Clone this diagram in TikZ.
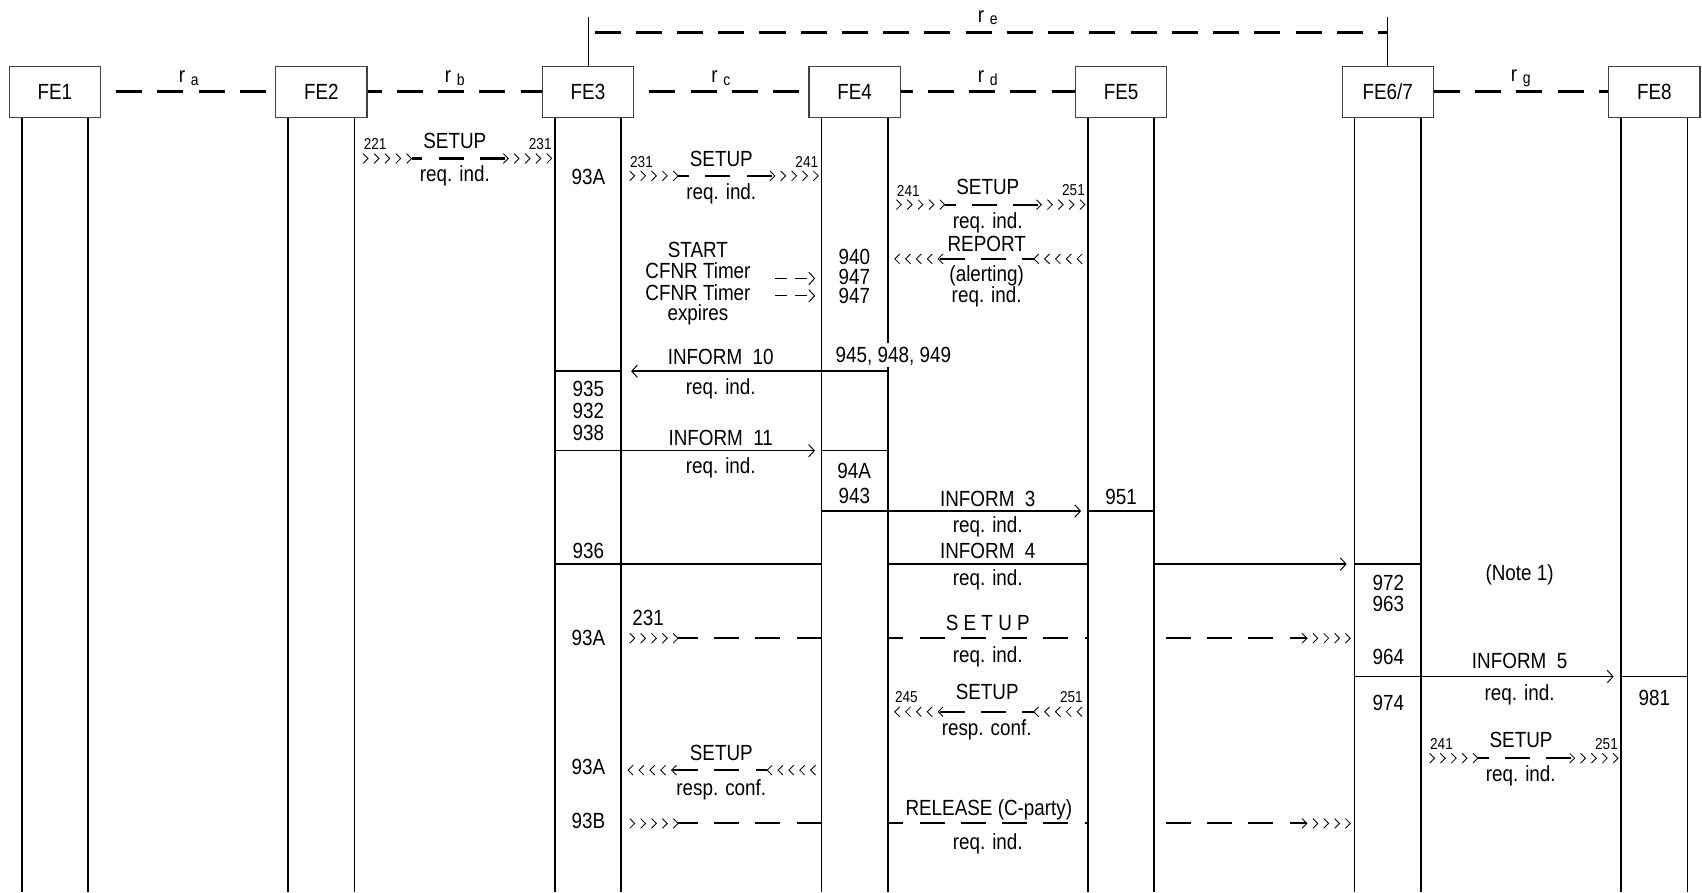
\documentclass[tikz,border=0pt]{standalone}
\usepackage{fontspec}
\setmainfont{Liberation Sans}[FakeStretch=0.86]
\usetikzlibrary{arrows.meta}
\begin{document}
\begin{tikzpicture}[x=0.02cm,y=-0.02cm,
  lbl/.style={font=\fontsize{11.5}{12}\selectfont, inner sep=0pt, anchor=center},
  sml/.style={font=\fontsize{8.3}{9}\selectfont, inner sep=0pt, anchor=center},
  febox/.style={draw=black!75, line width=0.6pt, fill=white, minimum width=1.68cm, minimum height=0.94cm, inner sep=0pt, font=\fontsize{11.5}{12}\selectfont},
  life/.style={line width=1pt},
  lifethin/.style={line width=0.5pt},
  link/.style={line width=1.6pt, dash pattern=on 0.48cm off 0.28cm},
  dmsg/.style={line width=1.1pt, dash pattern=on 0.46cm off 0.3cm},
  imsg/.style={line width=0.8pt},
  tip/.style={-{Straight Barb[length=3pt,width=6.5pt,line width=0.5pt]}},
  chev/.style={line width=0.45pt},
  chr/.pic={\foreach \i in {0,10,20,30,40}{\draw[chev] (\i-4.5,-4.5) -- (\i,0) -- (\i-4.5,4.5);}},
  chl/.pic={\foreach \i in {0,10,20,30,40}{\draw[chev] (\i+4.5,-4.5) -- (\i,0) -- (\i+4.5,4.5);}},
]
\useasboundingbox (0,0) rectangle (1568,822);

% ---------- lifelines ----------
\foreach \n/\c in {1/50.5,2/296.1,3/541.7,4/787.3,5/1032.9,6/1278.5,8/1524.1}{
  \coordinate (L\n t) at (\c-30.5,108);
  \coordinate (L\n b) at (\c-30.5,822);
  \coordinate (R\n t) at (\c+30.5,108);
  \coordinate (R\n b) at (\c+30.5,822);
}
\foreach \n in {1,2,3,5,8}{
  \draw[life] (L\n t) -- (L\n b);
  \draw[life] (R\n t) -- (R\n b);
}
\draw[life] (L4t) -- (L4b);
\coordinate (R4g1) at (817.8,316);
\coordinate (R4g2) at (817.8,338);
\draw[life] (R4t) -- (R4g1);
\draw[life] (R4g2) -- (R4b);
\draw[lifethin] (L6t) -- (L6b);
\draw[life] (R6t) -- (R6b);

% ---------- FE boxes ----------
\node[febox] (fe1) at (50.5,84.5) {FE1};
\node[febox] (fe2) at (296.1,84.5) {FE2};
\node[febox] (fe3) at (541.7,84.5) {FE3};
\node[febox] (fe4) at (787.3,84.5) {FE4};
\node[febox] (fe5) at (1032.9,84.5) {FE5};
\node[febox] (fe6) at (1278.5,84.5) {FE6/7};
\node[febox] (fe8) at (1524.1,84.5) {FE8};

% ---------- relationships ----------
\draw[link, dash phase=0.48cm] (fe1.east) -- (fe2.west);
\draw[link, dash phase=0.22cm] (fe2.east) -- (fe3.west);
\draw[link, dash phase=0.48cm] (fe3.east) -- (fe4.west);
\draw[link, dash phase=0.26cm] (fe4.east) -- (fe5.west);
\draw[link, dash phase=0cm] (fe6.east) -- (fe8.west);
\coordinate (ret1) at (541.7,16);
\coordinate (ret2) at (1278.5,16);
\coordinate (rel1) at (541.7,30);
\coordinate (rel2) at (1278.5,30);
\draw[lifethin] (ret1) -- (fe3.north);
\draw[lifethin] (ret2) -- (fe6.north);
\draw[link, dash phase=0.64cm] (rel1) -- (rel2);
\newcommand\rlab[1]{r\kern3pt\raisebox{-1.2pt}{\fontsize{8.5}{9}\selectfont #1}}
\node[lbl] (ra) at (174,72) {\rlab{a}};
\node[lbl] (rb) at (419,72) {\rlab{b}};
\node[lbl] (rc) at (664,72) {\rlab{c}};
\node[lbl] (rd) at (910,72) {\rlab{d}};
\node[lbl] (rg) at (1401,72) {\rlab{g}};
\node[lbl] (re) at (910,16) {\rlab{e}};

% ---------- row 1 : FE2 -> FE3 SETUP ----------
\pic at (339.1,146) {chr};
\pic at (468.2,146) {chr};
\coordinate (m1a) at (465.2,146);
\coordinate (m1b) at (379.1,146);
\draw[dmsg] (m1a) -- (m1b);
\node[sml] (n221) at (345.6,133) {221};
\node[lbl] (s1) at (419,130) {SETUP};
\node[sml] (n231a) at (497.7,133) {231};
\node[lbl] (q1) at (419,162) {req. ind.};
\node[lbl] (c93a1) at (542,163) {93A};

% ---------- row 2 : FE3 -> FE4 SETUP ----------
\pic at (584.7,162) {chr};
\pic at (713.8,162) {chr};
\coordinate (m2a) at (710.8,162);
\coordinate (m2b) at (624.7,162);
\draw[dmsg] (m2a) -- (m2b);
\node[sml] (n231b) at (591,149) {231};
\node[lbl] (s2) at (664.5,146.5) {SETUP};
\node[sml] (n241a) at (743.3,149) {241};
\node[lbl] (q2) at (664.5,179) {req. ind.};

% ---------- row 3 : FE4 -> FE5 SETUP ----------
\pic at (830.3,188.5) {chr};
\pic at (959.4,188.5) {chr};
\coordinate (m3a) at (956.4,188.5);
\coordinate (m3b) at (870.3,188.5);
\draw[dmsg] (m3a) -- (m3b);
\node[sml] (n241b) at (836.8,175.5) {241};
\node[lbl] (s3) at (910,172) {SETUP};
\node[sml] (n251a) at (989,175.5) {251};
\node[lbl] (q3) at (910,205) {req. ind.};

% ---------- REPORT : FE5 -> FE4 ----------
\pic at (824.3,238.5) {chl};
\pic at (952.4,238.5) {chl};
\coordinate (m4a) at (865.8,238.5);
\coordinate (m4b) at (952.4,238.5);
\draw[dmsg] (m4a) -- (m4b);
\node[lbl] (rep) at (909,224.5) {REPORT};
\node[lbl] (alert) at (909,254) {(alerting)};
\node[lbl] (q4) at (909,273) {req. ind.};

% ---------- timer ----------
\node[lbl] (tstart) at (643,230.5) {START};
\node[lbl] (tcf1) at (643,249) {CFNR Timer};
\node[lbl] (tcf2) at (643,270) {CFNR Timer};
\node[lbl] (texp) at (643,290) {expires};
\coordinate (ta1) at (714,256.5);
\coordinate (tb1) at (751,256.5);
\coordinate (ta2) at (714,272.5);
\coordinate (tb2) at (751,272.5);
\draw[line width=0.5pt, dash pattern=on 0.22cm off 0.15cm, tip] (ta1) -- (tb1);
\draw[line width=0.5pt, dash pattern=on 0.22cm off 0.15cm, tip] (ta2) -- (tb2);
\node[lbl] (n940) at (787,237) {940};
\node[lbl] (n947a) at (787,255) {947};
\node[lbl] (n947b) at (787,273) {947};

% ---------- INFORM 10 ----------
\node[lbl] (i10) at (664,329) {INFORM\ \ 10};
\node[lbl] (n945) at (823,328) {945, 948, 949};
\coordinate (i10a) at (817.8,342);
\coordinate (i10b) at (581.4,342);
\draw[imsg,tip] (i10a) -- (i10b);
\coordinate (c3a) at (511.2,342);
\coordinate (c3b) at (572.2,342);
\draw[imsg] (c3a) -- (c3b);
\node[lbl] (q10) at (664,358) {req. ind.};
\node[lbl] (n935) at (542,358) {935};
\node[lbl] (n932) at (542,379) {932};
\node[lbl] (n938) at (542,399) {938};

% ---------- INFORM 11 ----------
\node[lbl] (i11) at (664,403) {INFORM\ \ 11};
\coordinate (i11a) at (511.2,415.2);
\coordinate (i11b) at (750.8,415.2);
\draw[imsg,tip] (i11a) -- (i11b);
\coordinate (c4a) at (756.8,415.2);
\coordinate (c4b) at (817.8,415.2);
\draw[imsg] (c4a) -- (c4b);
\node[lbl] (q11) at (664,431) {req. ind.};
\node[lbl] (n94a) at (787,434) {94A};
\node[lbl] (n943) at (787,457) {943};

% ---------- INFORM 3 ----------
\node[lbl] (i3) at (910,460) {INFORM\ \ 3};
\coordinate (i3a) at (756.8,470.8);
\coordinate (i3b) at (996,470.8);
\draw[imsg,tip] (i3a) -- (i3b);
\coordinate (c5a) at (1002.4,470.8);
\coordinate (c5b) at (1063.4,470.8);
\draw[imsg] (c5a) -- (c5b);
\node[lbl] (n951) at (1032.9,458) {951};
\node[lbl] (q3b) at (910,485) {req. ind.};

% ---------- INFORM 4 ----------
\node[lbl] (n936) at (542,508) {936};
\node[lbl] (i4) at (910,508) {INFORM\ \ 4};
\coordinate (i4a) at (511.2,519.7);
\coordinate (i4b) at (756.8,519.7);
\coordinate (i4c) at (817.8,519.7);
\coordinate (i4d) at (1002.4,519.7);
\coordinate (i4e) at (1063.4,519.7);
\coordinate (i4f) at (1240.7,519.7);
\draw[imsg] (i4a) -- (i4b);
\draw[imsg] (i4c) -- (i4d);
\draw[imsg,tip] (i4e) -- (i4f);
\coordinate (c6a) at (1248,519.7);
\coordinate (c6b) at (1309,519.7);
\draw[imsg] (c6a) -- (c6b);
\node[lbl] (q4b) at (910,534) {req. ind.};
\node[lbl] (n972) at (1279,537) {972};
\node[lbl] (n963) at (1279,556.5) {963};
\node[lbl] (note) at (1400,530) {(Note 1)};

% ---------- long SETUP : FE3 -> FE6/7 ----------
\node[lbl] (c93a2) at (542,587.4) {93A};
\node[lbl] (n231c) at (597,569) {231};
\pic at (584.7,588) {chr};
\coordinate (l1a) at (756.8,588);
\coordinate (l1b) at (624.7,588);
\draw[dmsg] (l1a) -- (l1b);
\coordinate (l1c) at (817.8,588);
\coordinate (l1d) at (1002.4,588);
\draw[dmsg, dash phase=0.17cm] (l1c) -- (l1d);
\coordinate (l1e) at (1204,588);
\coordinate (l1f) at (1063.4,588);
\draw[dmsg, dash phase=0.14cm] (l1e) -- (l1f);
\pic at (1204,588) {chr};
\node[lbl] (sspc) at (910,574) {S E T U P};
\node[lbl] (ql1) at (910,605) {req. ind.};
\node[lbl] (n964) at (1279,605) {964};

% ---------- INFORM 5 ----------
\node[lbl] (i5) at (1400,609) {INFORM\ \ 5};
\coordinate (i5a) at (1248,623.3);
\coordinate (i5b) at (1486.6,623.3);
\draw[imsg,tip] (i5a) -- (i5b);
\coordinate (c8a) at (1493.6,623.3);
\coordinate (c8b) at (1554.6,623.3);
\draw[imsg] (c8a) -- (c8b);
\node[lbl] (q5) at (1400,640) {req. ind.};
\node[lbl] (n974) at (1279,648) {974};
\node[lbl] (n981) at (1524,643) {981};

% ---------- SETUP resp. conf. : FE5 -> FE4 ----------
\pic at (824.3,655.7) {chl};
\pic at (952.4,655.7) {chl};
\coordinate (r1a) at (865.8,655.7);
\coordinate (r1b) at (952.4,655.7);
\draw[dmsg] (r1a) -- (r1b);
\node[sml] (n245) at (835,642) {245};
\node[lbl] (s5) at (909.5,637) {SETUP};
\node[sml] (n251b) at (987,642) {251};
\node[lbl] (rc1) at (909,672.6) {resp. conf.};

% ---------- SETUP : FE6/7 -> FE8 ----------
\pic at (1321.5,698.5) {chr};
\pic at (1450.6,698.5) {chr};
\coordinate (m6a) at (1447.6,698.5);
\coordinate (m6b) at (1361.5,698.5);
\draw[dmsg] (m6a) -- (m6b);
\node[sml] (n241c) at (1328,685.5) {241};
\node[lbl] (s6) at (1401.3,682) {SETUP};
\node[sml] (n251c) at (1480,685.5) {251};
\node[lbl] (q6) at (1401,715) {req. ind.};

% ---------- SETUP resp. conf. : FE4 -> FE3 ----------
\pic at (578.7,709.5) {chl};
\pic at (706.8,709.5) {chl};
\coordinate (r2a) at (620.2,709.5);
\coordinate (r2b) at (706.8,709.5);
\draw[dmsg] (r2a) -- (r2b);
\node[lbl] (s7) at (664.5,694) {SETUP};
\node[lbl] (rc2) at (664.5,728) {resp. conf.};
\node[lbl] (c93a3) at (542,707) {93A};

% ---------- RELEASE : FE3 -> FE6/7 ----------
\node[lbl] (c93b) at (542,756) {93B};
\pic at (584.7,758.6) {chr};
\coordinate (l2a) at (756.8,758.6);
\coordinate (l2b) at (624.7,758.6);
\draw[dmsg] (l2a) -- (l2b);
\coordinate (l2c) at (817.8,758.6);
\coordinate (l2d) at (1002.4,758.6);
\draw[dmsg, dash phase=0.17cm] (l2c) -- (l2d);
\coordinate (l2e) at (1204,758.6);
\coordinate (l2f) at (1063.4,758.6);
\draw[dmsg, dash phase=0.14cm] (l2e) -- (l2f);
\pic at (1204,758.6) {chr};
\node[lbl] (rel) at (911,746) {RELEASE (C-party)};
\node[lbl] (qrel) at (910,777) {req. ind.};
\end{tikzpicture}
\end{document}
